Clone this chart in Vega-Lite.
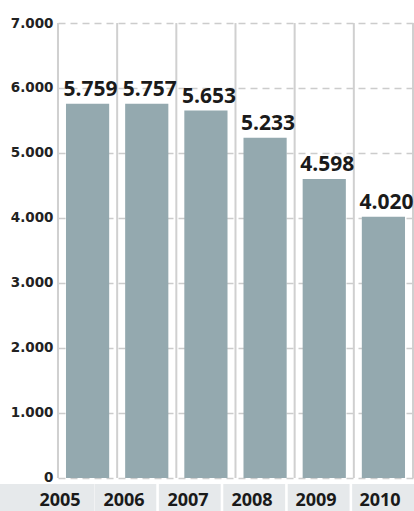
{
  "$schema": "https://vega.github.io/schema/vega-lite/v6.json",
  "autosize": {"type": "none"},
  "padding": {"left": 58, "top": 23, "right": 1, "bottom": 0},
  "width": 355,
  "height": 488,
  "background": "white",
  "data": {
    "values": [
      {"year": "2005", "value": 5759},
      {"year": "2006", "value": 5757},
      {"year": "2007", "value": 5653},
      {"year": "2008", "value": 5233},
      {"year": "2009", "value": 4598},
      {"year": "2010", "value": 4020}
    ]
  },
  "layer": [
    {
      "mark": {"type": "rule", "color": "#d0d0d0", "strokeWidth": 2, "xOffset": -29.6},
      "encoding": {
        "x": {"field": "year", "type": "nominal", "axis": null, "scale": {"paddingInner": 0.27, "paddingOuter": 0.135}},
        "y": {"datum": 0},
        "y2": {"datum": 7000}
      }
    },
    {
      "mark": {"type": "rule", "color": "#d0d0d0", "strokeWidth": 2, "xOffset": 29.6},
      "encoding": {
        "x": {"field": "year", "type": "nominal", "axis": null, "scale": {"paddingInner": 0.27, "paddingOuter": 0.135}},
        "y": {"datum": 0},
        "y2": {"datum": 7000},
        "opacity": {"condition": {"test": "datum.year == '2010'", "value": 1}, "value": 0}
      }
    },
    {
      "mark": {"type": "bar", "color": "#94a9af"},
      "encoding": {
        "x": {
          "field": "year",
          "type": "nominal",
          "axis": null,
          "scale": {"paddingInner": 0.27, "paddingOuter": 0.135}
        },
        "y": {
          "field": "value",
          "type": "quantitative",
          "scale": {"domain": [-508, 7000], "nice": false, "zero": false},
          "axis": {
            "title": null,
            "values": [0, 1000, 2000, 3000, 4000, 5000, 6000, 7000],
            "labelExpr": "replace(format(datum.value, ','), ',', '.')",
            "grid": true,
            "gridDash": [7, 5],
            "gridColor": "#cccccc",
            "gridWidth": 1.5,
            "domain": false,
            "ticks": false,
            "labelFont": "DejaVu Sans",
            "labelFontWeight": "bold",
            "labelFontSize": 13.5,
            "labelColor": "#222222",
            "labelPadding": 5
          }
        }
      }
    },
    {
      "mark": {
        "type": "text",
        "font": "Open Sans",
        "fontWeight": "bold",
        "fontSize": 21,
        "color": "#1a1a1a",
        "baseline": "alphabetic",
        "dy": -8,
        "dx": 3,
        "text": {"expr": "replace(format(datum.value, ','), ',', '.')"}
      },
      "encoding": {
        "x": {"field": "year", "type": "nominal", "axis": null, "scale": {"paddingInner": 0.27, "paddingOuter": 0.135}},
        "y": {"field": "value", "type": "quantitative"}
      }
    },
    {
      "transform": [{"filter": "datum.year == '2005'"}],
      "mark": {"type": "rect", "color": "#e6e9eb"},
      "encoding": {
        "x": {
          "field": "year",
          "type": "nominal",
          "axis": null,
          "scale": {"range": [-58, 36], "paddingInner": 0, "paddingOuter": 0}
        },
        "y": {"datum": -92},
        "y2": {"datum": -508}
      }
    },
    {
      "mark": {"type": "rect", "color": "#e6e9eb"},
      "encoding": {
        "x": {
          "field": "year",
          "type": "nominal",
          "axis": null,
          "scale": {"range": [-28, 356], "paddingInner": 0.04, "paddingOuter": 0}
        },
        "y": {"datum": -92},
        "y2": {"datum": -508}
      }
    },
    {
      "mark": {
        "type": "text",
        "font": "Open Sans",
        "fontWeight": "bold",
        "fontSize": 18,
        "color": "#1a1a1a",
        "baseline": "middle",
        "dx": -2
      },
      "encoding": {
        "x": {"field": "year", "type": "nominal", "axis": null, "scale": {"range": [-28, 356], "paddingInner": 0.04, "paddingOuter": 0}},
        "y": {"datum": -354},
        "text": {"field": "year", "type": "nominal"}
      }
    }
  ],
  "resolve": {"scale": {"x": "independent"}},
  "config": {
    "view": {"stroke": null}
  }
}
